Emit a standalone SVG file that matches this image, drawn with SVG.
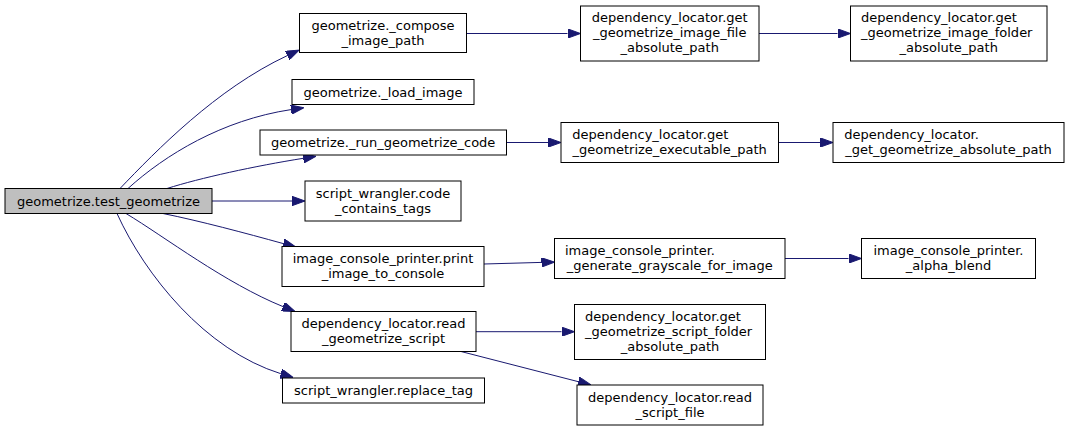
<svg xmlns="http://www.w3.org/2000/svg" width="1069" height="431" viewBox="0 0 1069 431">
<style>
.n rect{fill:#ffffff;stroke:#000000;stroke-width:1}
.n.root rect{fill:#bfbfbf}
text{font-family:"DejaVu Sans",sans-serif;font-size:13px;fill:#000000}
.c{text-anchor:middle}
.l{text-anchor:start}
.e path{fill:none;stroke:#191970;stroke-width:1;marker-end:url(#ah)}
</style>
<defs>
<marker id="ah" viewBox="0 0 13 9.4" refX="0" refY="4.7" markerWidth="13" markerHeight="9.4" markerUnits="userSpaceOnUse" orient="auto">
<path d="M0,0 L13,4.7 L0,9.4 z" fill="#191970" stroke="#191970" stroke-width="1"/>
</marker>
</defs>
<rect x="0" y="0" width="1069" height="431" fill="#ffffff"/>
<g id="edges" class="e">
<path d="M120,188.5 C156,151 216,89 287.3,55.6"/>
<path d="M128,188.5 C165,155 222,120 291,109.6"/>
<path d="M167,188.5 C200,178 255,166 303.3,158.3"/>
<path d="M212,201 L292,201"/>
<path d="M163,213.5 C200,221 245,233 283.3,243.6"/>
<path d="M126,213.5 C165,237 225,283 283,306.6"/>
<path d="M117,213.5 C145,275 205,350 280.8,373.7"/>
<path d="M466.7,33.5 L567.5,33.5"/>
<path d="M506.5,142.5 L548,142.5"/>
<path d="M484,264 L541.5,262.4"/>
<path d="M476,331.7 L561.5,331.7"/>
<path d="M461,351.5 L578.4,381.7"/>
<path d="M759,33.5 L837.5,33.5"/>
<path d="M778.5,142.5 L820,142.5"/>
<path d="M785,258.5 L848.5,258.5"/>
</g>
<g id="test_geometrize" class="n root">
<rect x="5" y="188.5" width="207" height="25"/>
<text class="c" x="108.5" y="205.5">geometrize.test_geometrize</text>
</g>
<g id="compose_image_path" class="n">
<rect x="299.5" y="13.5" width="167" height="39"/>
<text class="c" x="383" y="29.5">geometrize._compose</text>
<text class="c" x="383" y="44.5">_image_path</text>
</g>
<g id="load_image" class="n">
<rect x="292" y="79.5" width="182" height="25"/>
<text class="c" x="383" y="96.5">geometrize._load_image</text>
</g>
<g id="run_geometrize_code" class="n">
<rect x="260" y="130" width="246.5" height="25"/>
<text class="c" x="383.2" y="147">geometrize._run_geometrize_code</text>
</g>
<g id="code_contains_tags" class="n">
<rect x="305" y="181" width="156" height="40"/>
<text class="c" x="383" y="197.5">script_wrangler.code</text>
<text class="c" x="383" y="212.5">_contains_tags</text>
</g>
<g id="print_image_to_console" class="n">
<rect x="282" y="246.5" width="202" height="40"/>
<text class="c" x="383" y="263">image_console_printer.print</text>
<text class="c" x="383" y="278">_image_to_console</text>
</g>
<g id="read_geometrize_script" class="n">
<rect x="291" y="311.5" width="185" height="40"/>
<text class="c" x="383.5" y="328">dependency_locator.read</text>
<text class="c" x="383.5" y="343">_geometrize_script</text>
</g>
<g id="replace_tag" class="n">
<rect x="282.5" y="378" width="202" height="25"/>
<text class="c" x="383.5" y="395">script_wrangler.replace_tag</text>
</g>
<g id="get_geometrize_image_file_absolute_path" class="n">
<rect x="580.5" y="6" width="178.5" height="55"/>
<text class="c" x="669.7" y="22">dependency_locator.get</text>
<text class="c" x="669.7" y="37">_geometrize_image_file</text>
<text class="c" x="669.7" y="52">_absolute_path</text>
</g>
<g id="get_geometrize_executable_path" class="n">
<rect x="561" y="122.5" width="217.5" height="40"/>
<text class="l" x="572.3" y="139">dependency_locator.get</text>
<text class="c" x="669.7" y="154">_geometrize_executable_path</text>
</g>
<g id="generate_grayscale_for_image" class="n">
<rect x="554.5" y="238.5" width="230.5" height="40"/>
<text class="l" x="565" y="255">image_console_printer.</text>
<text class="c" x="669.7" y="270">_generate_grayscale_for_image</text>
</g>
<g id="get_geometrize_script_folder_absolute_path" class="n">
<rect x="574.5" y="304.5" width="191" height="55"/>
<text class="l" x="585" y="320.5">dependency_locator.get</text>
<text class="l" x="585" y="335.5">_geometrize_script_folder</text>
<text class="c" x="670" y="350.5">_absolute_path</text>
</g>
<g id="read_script_file" class="n">
<rect x="577" y="385" width="186" height="40"/>
<text class="c" x="670" y="401.5">dependency_locator.read</text>
<text class="c" x="670" y="416.5">_script_file</text>
</g>
<g id="get_geometrize_image_folder_absolute_path" class="n">
<rect x="850.5" y="6" width="196.5" height="55"/>
<text class="l" x="861" y="22">dependency_locator.get</text>
<text class="l" x="861" y="37">_geometrize_image_folder</text>
<text class="c" x="948.7" y="52">_absolute_path</text>
</g>
<g id="get_geometrize_absolute_path" class="n">
<rect x="833" y="122.5" width="231" height="40"/>
<text class="l" x="844.3" y="139">dependency_locator.</text>
<text class="c" x="948.5" y="154">_get_geometrize_absolute_path</text>
</g>
<g id="alpha_blend" class="n">
<rect x="861.5" y="238.5" width="174" height="40"/>
<text class="c" x="948.5" y="255">image_console_printer.</text>
<text class="c" x="948.5" y="270">_alpha_blend</text>
</g>
</svg>
